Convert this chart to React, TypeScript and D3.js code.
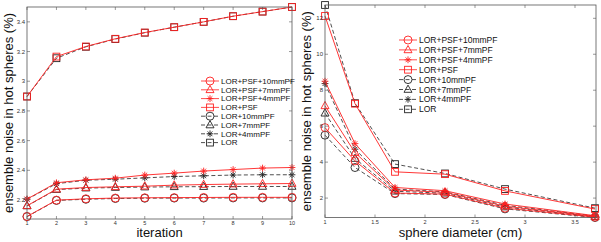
import React from "react";
import * as d3 from "d3";

const seriesNames = [
  "LOR+PSF+10mmPF",
  "LOR+PSF+7mmPF",
  "LOR+PSF+4mmPF",
  "LOR+PSF",
  "LOR+10mmPF",
  "LOR+7mmPF",
  "LOR+4mmPF",
  "LOR",
];
const seriesMarkers = ["circle", "triangle", "star", "square", "circle", "triangle", "star", "square"];
const seriesDashed = [false, false, false, false, true, true, true, true];

const iterations = [1, 2, 3, 4, 5, 6, 7, 8, 9, 10];
const iterPSF10 = [2.089, 2.199, 2.208, 2.213, 2.215, 2.216, 2.217, 2.218, 2.218, 2.218];
const iterPSF7 = [2.161, 2.273, 2.284, 2.289, 2.293, 2.3, 2.304, 2.307, 2.309, 2.311];
const iterPSF4 = [2.206, 2.316, 2.336, 2.347, 2.368, 2.381, 2.395, 2.405, 2.415, 2.419];
const iterPSF = [2.897, 3.166, 3.234, 3.286, 3.328, 3.364, 3.4, 3.438, 3.469, 3.5];
const iterLOR10 = [2.088, 2.197, 2.205, 2.21, 2.212, 2.213, 2.213, 2.214, 2.214, 2.214];
const iterLOR7 = [2.16, 2.27, 2.28, 2.284, 2.287, 2.289, 2.29, 2.291, 2.291, 2.291];
const iterLOR4 = [2.205, 2.31, 2.333, 2.34, 2.349, 2.358, 2.363, 2.368, 2.37, 2.37];
const iterLOR = [2.897, 3.155, 3.232, 3.284, 3.327, 3.364, 3.4, 3.438, 3.469, 3.5];
const iterSeries = [iterPSF10, iterPSF7, iterPSF4, iterPSF, iterLOR10, iterLOR7, iterLOR4, iterLOR];
const iterYTicks = [2.2, 2.4, 2.6, 2.8, 3, 3.2, 3.4];

const diameters = [1, 1.3, 1.7, 2.2, 2.8, 3.7];
const diaPSF10 = [5.92, 4.07, 2.28, 2.22, 1.44, 0.94];
const diaPSF7 = [7.13, 4.53, 2.45, 2.32, 1.55, 0.98];
const diaPSF4 = [8.5, 5.03, 2.59, 2.41, 1.67, 1.02];
const diaPSF = [12.13, 7.25, 3.46, 3.33, 2.4, 1.39];
const diaLOR10 = [5.5, 3.7, 2.25, 2.2, 1.4, 0.92];
const diaLOR7 = [6.72, 4.2, 2.38, 2.27, 1.5, 0.96];
const diaLOR4 = [8.37, 4.72, 2.5, 2.35, 1.6, 1.0];
const diaLOR = [12.74, 7.28, 3.89, 3.37, 2.5, 1.44];
const diaSeries = [diaPSF10, diaPSF7, diaPSF4, diaPSF, diaLOR10, diaLOR7, diaLOR4, diaLOR];
const diaXTicks = [1, 1.5, 2, 2.5, 3, 3.5];
const diaYTicks = [2, 4, 6, 8, 10, 12];

const RED = "#ff2020";
const BLACK = "#222";
const FONT = "'Liberation Sans', Arial, Helvetica, sans-serif";

function Marker({ type, x, y, color, r }: { type: string; x: number; y: number; color: string; r: number }) {
  const common = { fill: "none", stroke: color, strokeWidth: 0.9 };
  if (type === "circle") return <circle cx={x} cy={y} r={r} {...common} />;
  if (type === "square") return <rect x={x - r * 0.85} y={y - r * 0.85} width={r * 1.7} height={r * 1.7} {...common} />;
  if (type === "triangle")
    return (
      <path
        d={`M${x},${y - r * 1.1}L${x + r},${y + r * 0.7}L${x - r},${y + r * 0.7}Z`}
        {...common}
      />
    );
  const s = r * 0.85;
  const d = s * 0.7;
  return (
    <path
      d={`M${x - s},${y}L${x + s},${y}M${x},${y - s}L${x},${y + s}M${x - d},${y - d}L${x + d},${y + d}M${x - d},${y + d}L${x + d},${y - d}`}
      {...common}
    />
  );
}

type PanelProps = {
  xs: number[];
  series: number[][];
  x0: number;
  x1: number;
  y0: number;
  y1: number;
  xDomain: [number, number];
  yDomain: [number, number];
  xTicks: number[];
  yTicks: number[];
  xLabel: string;
  yLabelX: number;
  legendX: number;
  legendY: number;
  legendStep: number;
  legendFont: number;
  markerR: number;
};

function Panel(p: PanelProps) {
  const x = d3.scaleLinear().domain(p.xDomain).range([p.x0, p.x1]);
  const y = d3.scaleLinear().domain(p.yDomain).range([p.y1, p.y0]);
  const line = d3
    .line<number>()
    .x((_, i) => x(p.xs[i]))
    .y((v) => y(v));
  const order = [4, 5, 6, 7, 0, 1, 2, 3];
  const fmt = (v: number) => String(v);
  const tk = 3;
  return (
    <g>
      {order.map((si) => (
        <g key={si}>
          <path
            d={line(p.series[si]) || ""}
            fill="none"
            stroke={seriesDashed[si] ? BLACK : RED}
            strokeWidth={seriesDashed[si] ? 0.8 : 0.9}
            strokeDasharray={seriesDashed[si] ? "4,2.5" : undefined}
          />
          {p.series[si].map((v, i) => (
            <Marker
              key={i}
              type={seriesMarkers[si]}
              x={x(p.xs[i])}
              y={y(v)}
              color={seriesDashed[si] ? BLACK : RED}
              r={p.markerR}
            />
          ))}
        </g>
      ))}
      <rect x={p.x0} y={p.y0} width={p.x1 - p.x0} height={p.y1 - p.y0} fill="none" stroke="#555" strokeWidth={0.8} />
      {p.xTicks.map((t) => (
        <g key={"xt" + t}>
          <line x1={x(t)} x2={x(t)} y1={p.y1} y2={p.y1 - tk} stroke="#555" strokeWidth={0.6} />
          <line x1={x(t)} x2={x(t)} y1={p.y0} y2={p.y0 + tk} stroke="#555" strokeWidth={0.6} />
          <text x={x(t)} y={p.y1 + 6} fontSize={5.5} textAnchor="middle" fontFamily={FONT} fill="#333">
            {fmt(t)}
          </text>
        </g>
      ))}
      {p.yTicks.map((t) => (
        <g key={"yt" + t}>
          <line x1={p.x0} x2={p.x0 + tk} y1={y(t)} y2={y(t)} stroke="#555" strokeWidth={0.6} />
          <line x1={p.x1} x2={p.x1 - tk} y1={y(t)} y2={y(t)} stroke="#555" strokeWidth={0.6} />
          <text x={p.x0 - 2} y={y(t) + 2} fontSize={6} textAnchor="end" fontFamily={FONT} fill="#333">
            {fmt(t)}
          </text>
        </g>
      ))}
      <text
        x={(p.x0 + p.x1) / 2}
        y={237}
        fontSize={13}
        textAnchor="middle"
        fontFamily={FONT}
        fill="#111"
      >
        {p.xLabel}
      </text>
      <text
        transform={`translate(${p.yLabelX},${(p.y0 + p.y1) / 2}) rotate(-90)`}
        fontSize={13}
        textAnchor="middle"
        fontFamily={FONT}
        fill="#111"
      >
        ensemble noise in hot spheres (%)
      </text>
      {seriesNames.map((name, si) => {
        const ly = p.legendY + si * p.legendStep;
        const c = seriesDashed[si] ? BLACK : RED;
        return (
          <g key={"lg" + si}>
            <line
              x1={p.legendX}
              x2={p.legendX + 18}
              y1={ly}
              y2={ly}
              stroke={c}
              strokeWidth={0.8}
              strokeDasharray={seriesDashed[si] ? "4,2.5" : undefined}
            />
            <Marker type={seriesMarkers[si]} x={p.legendX + 9} y={ly} color={c} r={p.markerR} />
            <text
              x={p.legendX + 20}
              y={ly + p.legendFont * 0.36}
              fontSize={p.legendFont}
              fontFamily={FONT}
              fill="#111"
            >
              {name}
            </text>
          </g>
        );
      })}
    </g>
  );
}

export default function App() {
  return (
    <svg width={601} height={242} style={{ position: "absolute", left: 0, top: 0, background: "#fff" }}>
      <Panel
        xs={iterations}
        series={iterSeries}
        x0={27}
        x1={292}
        y0={7}
        y1={219}
        xDomain={[1, 10]}
        yDomain={[2.072, 3.5]}
        xTicks={iterations}
        yTicks={iterYTicks}
        xLabel="iteration"
        yLabelX={13}
        legendX={201}
        legendY={81}
        legendStep={8.8}
        legendFont={8}
        markerR={4}
      />
      <Panel
        xs={diameters}
        series={diaSeries}
        x0={325}
        x1={596}
        y0={5}
        y1={217.5}
        xDomain={[1, 3.71]}
        yDomain={[0.92, 12.74]}
        xTicks={diaXTicks}
        yTicks={diaYTicks}
        xLabel="sphere diameter (cm)"
        yLabelX={311}
        legendX={399}
        legendY={40}
        legendStep={9.9}
        legendFont={8.5}
        markerR={4}
      />
    </svg>
  );
}
